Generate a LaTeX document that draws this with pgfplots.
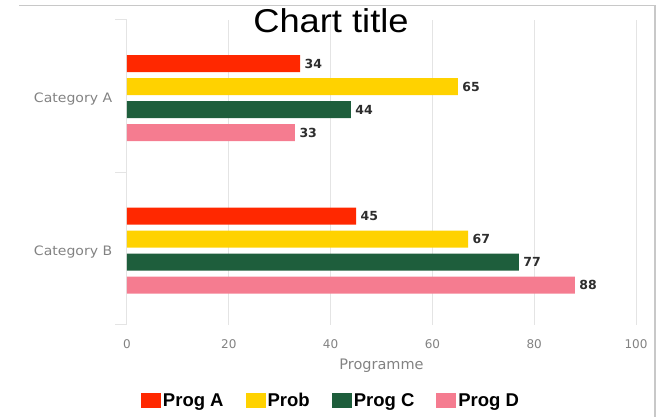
\documentclass[border=0pt]{standalone}
\usepackage{fontspec}
\setmainfont{DejaVu Sans}
\newfontfamily\arialfont{Liberation Sans}
\usepackage{pgfplots}
\pgfplotsset{compat=1.18}

\definecolor{progA}{RGB}{255,40,0}
\definecolor{progB}{RGB}{255,210,0}
\definecolor{progC}{RGB}{30,94,60}
\definecolor{progD}{RGB}{245,124,144}
\definecolor{framegray}{RGB}{200,200,200}
\definecolor{gridgray}{RGB}{228,228,228}
\definecolor{labelgray}{RGB}{130,130,130}
\definecolor{valuegray}{RGB}{45,45,45}

\pgfplotsset{
  sqlegend/.style={legend image code/.code={\fill[##1] (0pt,-7.5pt) rectangle (20pt,7.5pt);}},
}

\begin{document}
\begin{tikzpicture}
\useasboundingbox (0pt,0pt) rectangle (661pt,417pt);
% outer frame (top and right edges)
\draw[framegray, line width=1.5pt] (19pt,411.5pt) -- (655pt,411.5pt) -- (655pt,0pt);
% chart title
\node[font=\arialfont\fontsize{33}{33}\selectfont, xscale=1.1] at (331pt,396pt) {Chart title};

\begin{axis}[
  at={(127pt,92pt)}, anchor=south west,
  scale only axis, width=509pt, height=305pt,
  xmin=0, xmax=100, ymin=-0.5, ymax=1.5,
  xbar, bar width=17pt,
  axis line style={draw=none},
  tick pos=left,
  xmajorgrids, grid style={draw=gridgray, line width=1pt},
  xtick={0,20,...,100},
  ytick={0,1}, yticklabels={Category B, Category A},
  major tick length=0pt,
  extra y ticks={-0.5,0.5,1.5}, extra y tick labels={},
  extra y tick style={major tick length=12pt, tick align=outside,
    tick style={draw=gridgray, line width=1pt}, ymajorgrids=false},
  /pgf/number format/assume math mode=true,
  xticklabel style={font=\fontsize{12}{12}\selectfont, text=labelgray, yshift=-11pt},
  yticklabel style={font=\fontsize{13}{13}\selectfont, text=labelgray, xshift=-11pt, yshift=-3pt, xscale=1.08},
  xlabel={Programme},
  xlabel style={at={(axis description cs:0.5,0)}, anchor=center, yshift=-41pt,
    font=\fontsize{14.5}{14.5}\selectfont, text=labelgray},
  point meta=x,
  nodes near coords,
  nodes near coords style={font=\bfseries\fontsize{12.5}{12.5}\selectfont, text=valuegray, anchor=west, xshift=1pt},
  legend columns=4,
  legend style={at={(axis description cs:0.4008,-0.249)}, anchor=center, draw=none, fill=none,
    font=\arialfont\bfseries\fontsize{18.5}{18.5}\selectfont,
    /tikz/every even column/.append style={column sep=20pt}},
]
\addplot[fill=progA, draw=none, bar shift=32.5pt, sqlegend] coordinates {(34,1) (45,0)};
\addplot[fill=progB, draw=none, bar shift=9.5pt, sqlegend] coordinates {(65,1) (67,0)};
\addplot[fill=progC, draw=none, bar shift=-13.5pt, sqlegend] coordinates {(44,1) (77,0)};
\addplot[fill=progD, draw=none, bar shift=-36.5pt, sqlegend] coordinates {(33,1) (88,0)};
\legend{Prog A, Prob, Prog C, Prog D}
\end{axis}
\end{tikzpicture}
\end{document}
